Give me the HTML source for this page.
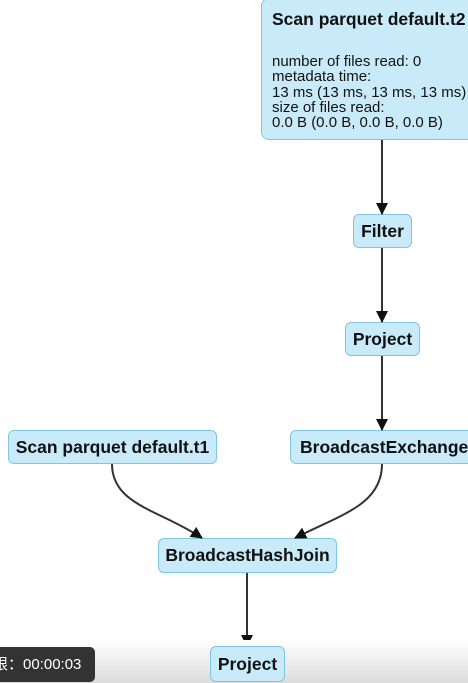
<!DOCTYPE html>
<html><head><meta charset="utf-8"><style>
html,body{margin:0;padding:0;background:#fff;}
body{width:468px;height:683px;position:relative;overflow:hidden;font-family:"Liberation Sans",Arial,sans-serif;}
.n{position:absolute;box-sizing:border-box;background:#c9ebf9;border:1.5px solid #7fc6e2;border-radius:6px;font-weight:bold;font-size:17.5px;color:#111;display:flex;align-items:center;justify-content:center;white-space:nowrap;overflow:hidden;}
svg{position:absolute;left:0;top:0;}
</style></head><body>
<div class="n" style="left:261px;top:-2px;width:220px;height:142px;display:block;padding:13px 0 0 10px;font-weight:normal;font-size:15px;line-height:15.2px;border-radius:8px;">
<div style="font-weight:bold;font-size:17.5px;">Scan parquet default.t2</div>
<div style="margin-top:27px;">number of files read: 0<br>metadata time:<br>13 ms (13 ms, 13 ms, 13 ms)<br>size of files read:<br>0.0 B (0.0 B, 0.0 B, 0.0 B)</div>
</div>
<div class="n" style="left:353px;top:214px;width:59px;height:34px;">Filter</div>
<div class="n" style="left:345px;top:322px;width:75px;height:34px;">Project</div>
<div class="n" style="left:290px;top:430px;width:190px;height:34px;justify-content:flex-start;padding-left:9px;">BroadcastExchange</div>
<div class="n" style="left:8px;top:430px;width:209px;height:34px;">Scan parquet default.t1</div>
<div class="n" style="left:158px;top:538px;width:179px;height:35px;">BroadcastHashJoin</div>
<svg width="468" height="683">
<defs><marker id="a" markerWidth="12" markerHeight="12" refX="11" refY="6" orient="auto" markerUnits="userSpaceOnUse"><path d="M0,0 L12,6 L0,12 z" fill="#111"/></marker></defs>
<g stroke="#333" stroke-width="2" fill="none" marker-end="url(#a)">
<line x1="382" y1="140" x2="382" y2="214"/>
<line x1="382" y1="248" x2="382" y2="322"/>
<line x1="382" y1="356" x2="382" y2="430"/>
<path d="M112,464 C112,505 160,510 202,538"/>
<path d="M382,464 C382,505 340,515 295,538"/>
<line x1="247" y1="573" x2="247" y2="646"/>
</g>
</svg>
<div style="position:absolute;left:0;top:640px;width:468px;height:43px;background:linear-gradient(#ffffff,#dcdcdc);"></div>
<div class="n" style="left:210px;top:646px;width:75px;height:36px;">Project</div>
<div style="position:absolute;left:0;top:647px;width:95px;height:35px;background:#333;border-radius:0 5px 5px 0;color:#fff;font-size:15px;line-height:35px;font-family:'Liberation Sans','Noto Sans CJK SC',sans-serif;white-space:nowrap;overflow:hidden;"><span style="margin-left:-7px">限：00:00:03</span></div>
</body></html>
